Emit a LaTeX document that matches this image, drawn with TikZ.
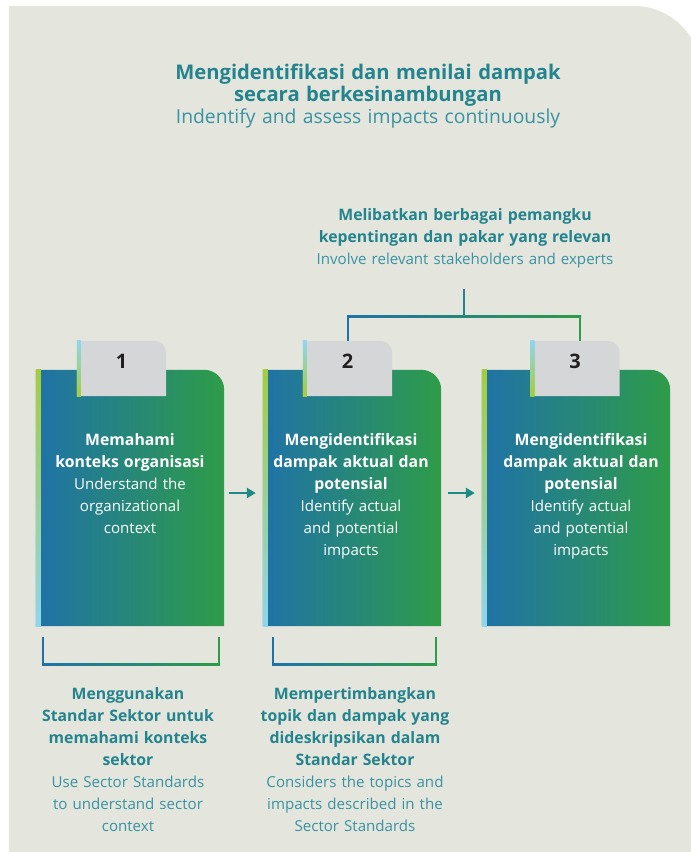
\documentclass[tikz,border=0pt]{standalone}
\usepackage{fontspec}
\setmainfont{Open Sans}
\usepackage{tikz}
\usetikzlibrary{arrows.meta,positioning}
\usepackage{xcolor}

\definecolor{panelbg}{HTML}{E4E5DD}
\definecolor{stepblue}{HTML}{1F72A8}
\definecolor{stepgreen}{HTML}{2E9C48}
\definecolor{tabgray}{HTML}{D5D6D8}
\definecolor{striplime}{HTML}{A5CD39}
\definecolor{stripsky}{HTML}{8FD6EE}
\definecolor{headteal}{HTML}{23848E}
\definecolor{subteal}{HTML}{3893A2}
\definecolor{arrowteal}{HTML}{1E8A86}
\definecolor{numdark}{HTML}{231F20}

\newcommand{\partbold}{\fontsize{15.8}{22}\selectfont\bfseries}

\begin{document}
\begin{tikzpicture}[x=1pt, y=-1pt, >={Triangle[length=9pt,width=10pt]},
    stepbox/.style={minimum height=256pt, inner sep=0pt},
    tabbox/.style={minimum width=89pt, minimum height=55pt, inner sep=0pt},
    stepnum/.style={text=numdark, font=\fontsize{20}{24}\selectfont\bfseries},
    steptext/.style={text=white, align=center, text width=180pt, inner sep=0pt,
        font=\fontsize{15.1}{22}\selectfont},
    notetext/.style={text=subteal, align=center, inner sep=0pt,
        font=\fontsize{15.1}{22}\selectfont},
    flow/.style={->, arrowteal, line width=2.5pt},
    bracketline/.style={line width=2pt}]

    \useasboundingbox (0,0) rectangle (691,852);

    % Background panel
    \fill[panelbg] (9,852) -- (9,6) [rounded corners=67pt] -- (701,6) [sharp corners] -- (701,852) -- cycle;

    % Title
    \node[align=center, text width=460pt, inner sep=0pt, font=\fontsize{19.3}{22}\selectfont] (title) at (368,96)
        {{\fontsize{20.2}{22}\selectfont\bfseries\color{headteal}Mengidentifikasi dan menilai dampak\\secara berkesinambungan}\\
         \color{subteal}Indentify and assess impacts continuously};

    % Step boxes
    \node[stepbox, minimum width=188pt] (s1) at (130,498) {};
    \node[stepbox, minimum width=178pt] (s2) at (352,498) {};
    \node[stepbox, minimum width=188pt] (s3) at (576,498) {};
    \foreach \s in {s1,s2,s3} {
        \shade[left color=stepblue, right color=stepgreen]
            (\s.south west) -- (\s.north west)
            [rounded corners=20pt] -- (\s.north east) [sharp corners] -- (\s.south east) -- cycle;
        \shade[top color=striplime, bottom color=stripsky]
            (\s.north west) rectangle ([xshift=5pt]\s.south west);
    }

    % Number tabs
    \node[tabbox] (tab1) at (121.5,368.5) {};
    \node[tabbox] (tab2) at (347.5,368.5) {};
    \node[tabbox] (tab3) at (575,368.5) {};
    \foreach \t/\n in {tab1/1, tab2/2, tab3/3} {
        \fill[tabgray]
            (\t.south west) -- (\t.north west)
            [rounded corners=12pt] -- (\t.north east) [sharp corners] -- (\t.south east) -- cycle;
        \shade[top color=stripsky, bottom color=striplime]
            (\t.north west) rectangle ([xshift=4pt]\t.south west);
        \node[stepnum] (num\n) at ([yshift=7pt]\t.center) {\n};
    }

    % Step texts
    \node[steptext] (t1) at (130,484)
        {{\partbold Memahami\\konteks organisasi}\\Understand the\\organizational\\context};
    \node[steptext] (t2) at (351,496)
        {{\partbold Mengidentifikasi\\dampak aktual dan\\potensial}\\Identify actual\\and potential\\impacts};
    \node[steptext] (t3) at (581,496)
        {{\partbold Mengidentifikasi\\dampak aktual dan\\potensial}\\Identify actual\\and potential\\impacts};

    % Flow arrows
    \draw[flow] ([xshift=5pt,yshift=5pt]s1.east) -- ([xshift=-7pt,yshift=5pt]s2.west);
    \draw[flow] ([xshift=7pt,yshift=5pt]s2.east) -- ([xshift=-7pt,yshift=5pt]s3.west);

    % Stakeholders (top)
    \node[notetext, text width=360pt] (stake) at (465,238)
        {{\partbold\color{headteal}Melibatkan berbagai pemangku\\kepentingan dan pakar yang relevan}\\
         Involve relevant stakeholders and experts};
    \coordinate (stakefoot) at (464,289);
    \coordinate (hub) at (464,316);
    \coordinate (hubl) at (348,316);
    \coordinate (hubr) at (580,316);
    \draw[bracketline, headteal] (stakefoot) -- (hub);
    \shade[left color=stepblue, right color=stepgreen]
        ([xshift=-1pt,yshift=1pt]hubl) rectangle ([xshift=1pt,yshift=-1pt]hubr);
    \draw[bracketline, stepblue] ([yshift=1pt]hubl) -- (hubl |- tab2.north);
    \draw[bracketline, stepgreen] ([yshift=1pt]hubr) -- (hubr |- tab3.north);

    % Sector standard brackets (bottom)
    \coordinate (b1lt) at (43,637);
    \coordinate (b1l) at (43,664);
    \coordinate (b1rt) at (219,637);
    \coordinate (b1r) at (219,664);
    \coordinate (b2lt) at (273,637);
    \coordinate (b2l) at (273,664);
    \coordinate (b2rt) at (436,637);
    \coordinate (b2r) at (436,664);
    \draw[bracketline, stepblue] (b1lt) -- ([yshift=-1pt]b1l);
    \draw[bracketline, stepgreen] (b1rt) -- ([yshift=-1pt]b1r);
    \shade[left color=stepblue, right color=stepgreen]
        ([xshift=-1pt,yshift=1pt]b1l) rectangle ([xshift=1pt,yshift=-1pt]b1r);
    \draw[bracketline, stepblue] (b2lt) -- ([yshift=-1pt]b2l);
    \draw[bracketline, stepgreen] (b2rt) -- ([yshift=-1pt]b2r);
    \shade[left color=stepblue, right color=stepgreen]
        ([xshift=-1pt,yshift=1pt]b2l) rectangle ([xshift=1pt,yshift=-1pt]b2r);

    % Notes below the brackets
    \node[notetext, text width=220pt] (note1) at (128,760)
        {{\partbold\color{headteal}Menggunakan\\Standar Sektor untuk\\memahami konteks\\sektor}\\
         Use Sector Standards\\to understand sector\\context};
    \node[notetext, text width=220pt] (note2) at (355,760)
        {{\partbold\color{headteal}Mempertimbangkan\\topik dan dampak yang\\dideskripsikan dalam\\Standar Sektor}\\
         Considers the topics and\\impacts described in the\\Sector Standards};

\end{tikzpicture}
\end{document}
